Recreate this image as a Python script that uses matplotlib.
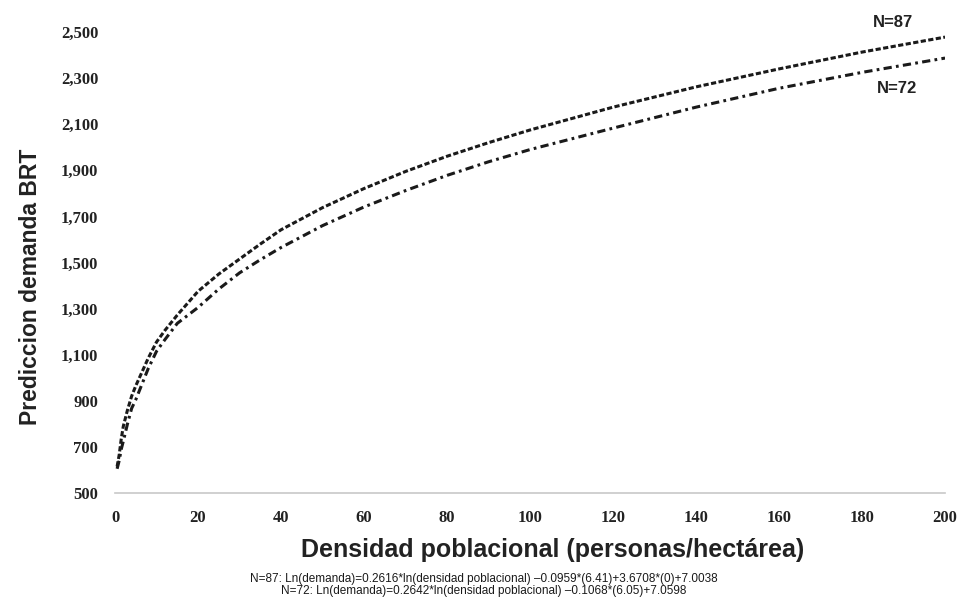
import numpy as np
import matplotlib.pyplot as plt

# valores
densidad = [0.5, 1, 1.5, 2, 3, 4, 5, 6, 8, 10, 12, 15, 20, 25, 30, 35, 40, 50, 60, 70, 80, 90,
            100, 120, 140, 160, 180, 200]
demanda_87 = [615, 665, 735, 790, 860, 920, 965, 1005, 1085, 1155, 1205, 1272, 1375, 1450, 1515,
              1580, 1642, 1738, 1821, 1895, 1961, 2020, 2075, 2174, 2262, 2340, 2413, 2478]
demanda_72 = [605, 640, 690, 725, 800, 867, 905, 950, 1040, 1115, 1165, 1236, 1305, 1385, 1455,
              1512, 1565, 1660, 1741, 1812, 1878, 1937, 1990, 2083, 2174, 2256, 2325, 2387]
yticks = np.arange(500, 2501, 200)
xticks = np.arange(0, 201, 20)

nota = ("N=87: Ln(demanda)=0.2616*ln(densidad poblacional) \u20130.0959*(6.41)+3.6708*(0)+7.0038\n"
        "N=72: Ln(demanda)=0.2642*ln(densidad poblacional) \u20130.1068*(6.05)+7.0598")

fig = plt.figure(figsize=(9.61, 6.16), dpi=100)
ax = fig.add_axes([0.1197, 0.1997, 0.8637, 0.7483])

ax.plot(densidad, demanda_87, color='#1a1a1a', lw=2.2, dashes=(1.7, 0.8))
ax.plot(densidad, demanda_72, color='#1a1a1a', lw=2.2, dashes=(2.7, 1.4, 0.9, 1.4))

ax.set_xlim(0, 200)
ax.set_ylim(500, 2500)
ax.set_xticks(xticks)
ax.set_yticks(yticks)
ax.set_yticklabels(['{:,}'.format(v) for v in yticks])
for lab in ax.get_xticklabels() + ax.get_yticklabels():
    lab.set_family('Liberation Serif')
    lab.set_fontweight('bold')
    lab.set_fontsize(12)
    lab.set_color('#222222')
ax.tick_params(axis='x', length=0, pad=12)
ax.tick_params(axis='y', length=0, pad=12)

for s in ['top', 'right', 'left']:
    ax.spines[s].set_visible(False)
ax.spines['bottom'].set_color('#c8c8c8')
ax.spines['bottom'].set_linewidth(1.2)

ax.set_xlabel('Densidad poblacional (personas/hectárea)', family='Liberation Sans',
              fontweight='bold', fontsize=18, color='#222222')
ax.xaxis.set_label_coords(0.527, -0.098)
ax.set_ylabel('Prediccion demanda BRT', family='Liberation Sans',
              fontweight='bold', fontsize=16.5, color='#222222')
ax.yaxis.set_label_coords(-0.088, 0.447)

ax.text(0.929, 0.964, 'N=87', transform=fig.transFigure, ha='center', va='center',
        family='Liberation Sans', fontweight='bold', fontsize=12, color='#222222')
ax.text(0.933, 0.857, 'N=72', transform=fig.transFigure, ha='center', va='center',
        family='Liberation Sans', fontweight='bold', fontsize=12, color='#222222')

fig.text(0.503, 0.05, nota, ha='center', va='center', fontsize=8.5, linespacing=1.05,
         family=['Liberation Sans Narrow', 'Liberation Sans'], color='#1a1a1a')

fig.savefig('out.png', dpi=100)
